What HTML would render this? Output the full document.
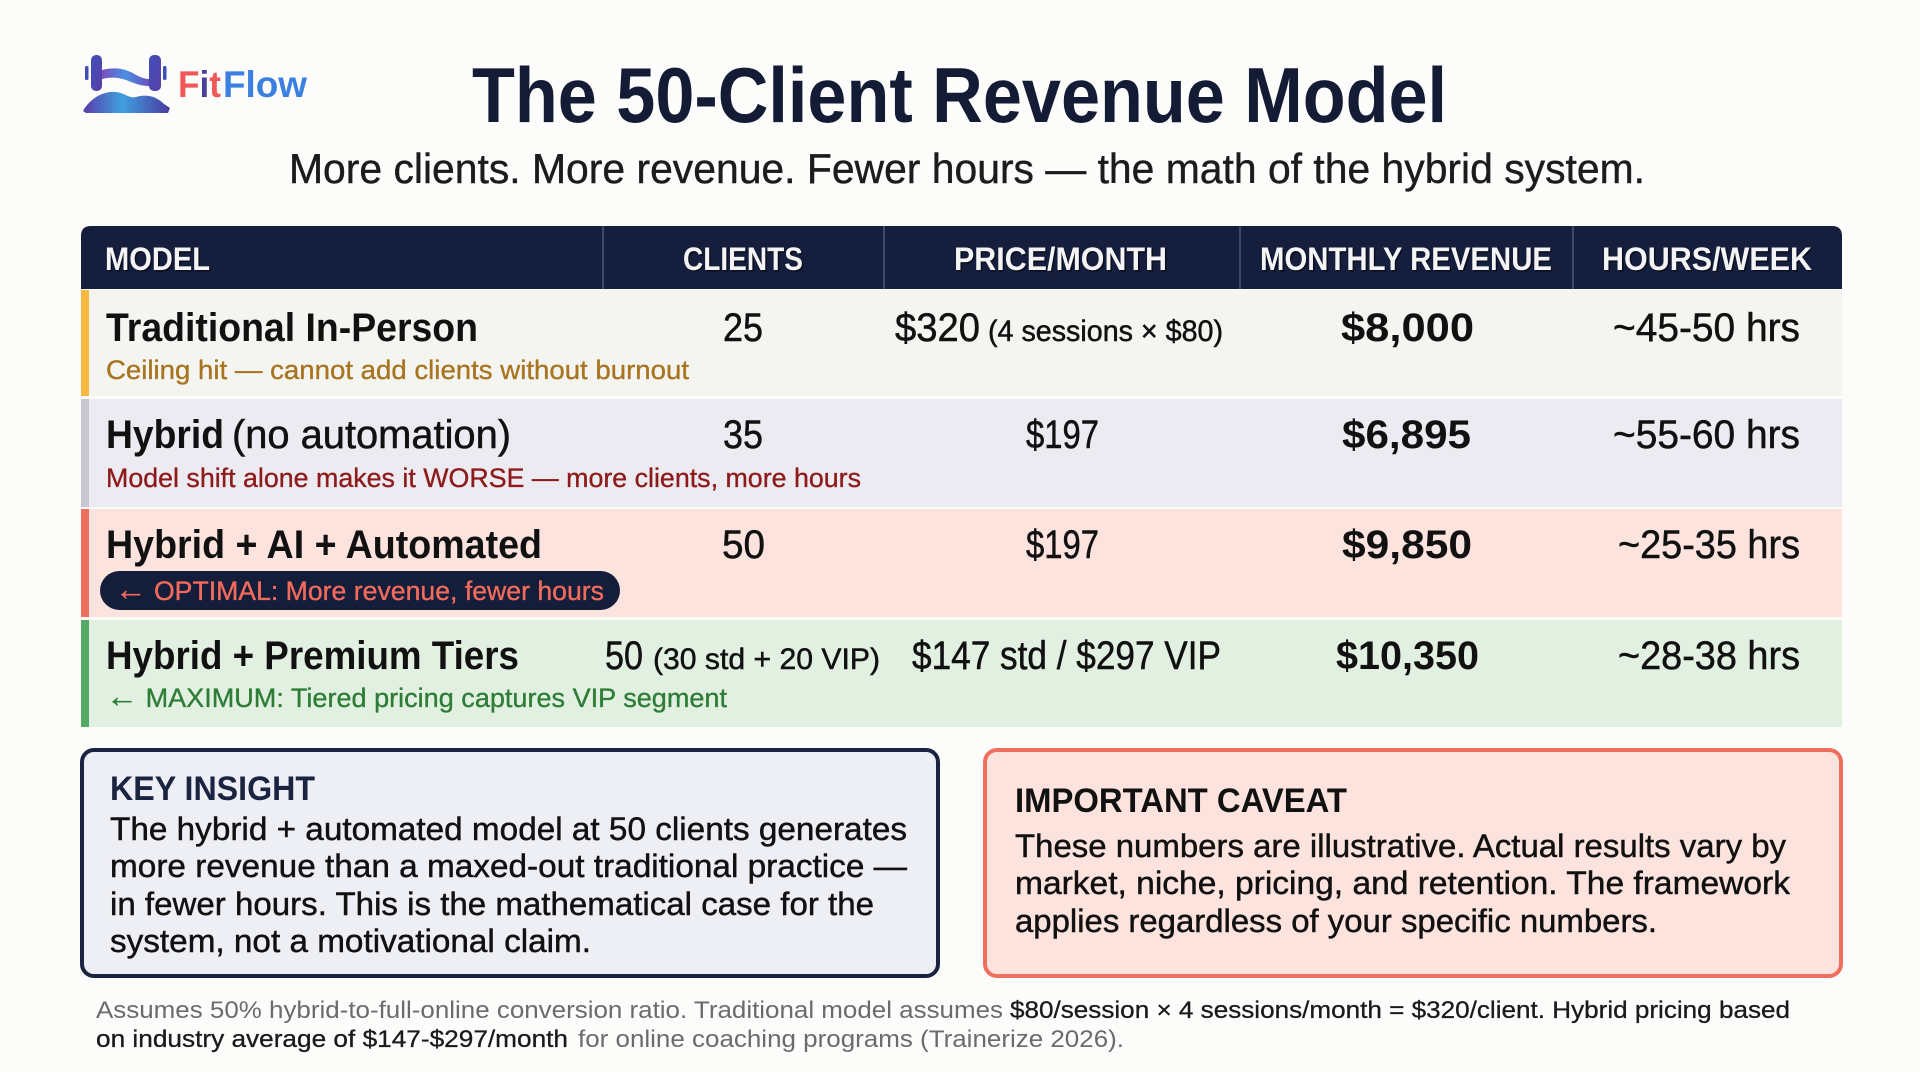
<!DOCTYPE html>
<html><head><meta charset="utf-8"><style>
html,body{margin:0;padding:0;background:#fcfcfb;}
svg{display:block;}
text{font-family:"Liberation Sans",Arial,sans-serif;}
</style></head><body>
<svg width="1920" height="1072" viewBox="0 0 1920 1072" xmlns="http://www.w3.org/2000/svg">
<defs>
<linearGradient id="gp" x1="0" y1="0" x2="1" y2="1"><stop offset="0" stop-color="#3f4fb8"/><stop offset="1" stop-color="#5a3fa8"/></linearGradient>
<linearGradient id="gw" x1="0" y1="0" x2="1" y2="0"><stop offset="0" stop-color="#7b4fc0"/><stop offset="0.5" stop-color="#4a8ee0"/><stop offset="1" stop-color="#6a4fc0"/></linearGradient>
<linearGradient id="gm" x1="0" y1="0" x2="1" y2="0"><stop offset="0" stop-color="#5a3aa8"/><stop offset="0.45" stop-color="#3fa0e0"/><stop offset="1" stop-color="#4a3a9e"/></linearGradient>
</defs>
<rect x="0" y="0" width="1920" height="1072" fill="#fcfcfb"/>

<!-- Logo -->
<rect x="85" y="66" width="3.5" height="14" rx="1.5" fill="#3f4fb8"/>
<rect x="91" y="55" width="11" height="36" rx="5" fill="url(#gp)"/>
<rect x="149" y="55" width="12" height="36" rx="5" fill="url(#gp)"/>
<rect x="163" y="66" width="3.5" height="14" rx="1.5" fill="#3f4fb8"/>
<path d="M102 70 C118 66,128 70,136 75 C142 78,146 79,149 79 L149 86 C140 86,134 83,126 80 C118 77,110 77,102 79 Z" fill="url(#gw)"/>
<path d="M83 111 C88 102,98 93,111 92 C124 91,128 99,136 97 C146 94,156 96,164 104 L170 108 L168 113 L86 113 Z" fill="url(#gm)"/>
<text x="178" y="97" font-size="37" font-weight="bold" fill="#f0595a" textLength="43" lengthAdjust="spacingAndGlyphs">F<tspan fill="#4a3f9a">i</tspan>t</text>
<text x="223" y="97" font-size="37" font-weight="bold" fill="#3b7fe0" textLength="84" lengthAdjust="spacingAndGlyphs">Flow</text>

<!-- Title -->
<text x="472" y="122" font-size="78" font-weight="bold" fill="#141b34" textLength="975" lengthAdjust="spacingAndGlyphs">The 50-Client Revenue Model</text>
<text x="289" y="183" font-size="42" fill="#1c1c1c" stroke="#1c1c1c" stroke-width="0.4" textLength="1356" lengthAdjust="spacingAndGlyphs">More clients. More revenue. Fewer hours — the math of the hybrid system.</text>

<!-- Table header -->
<path d="M81 289 L81 236 Q81 226 91 226 L1832 226 Q1842 226 1842 236 L1842 289 Z" fill="#151e3d"/>
<g stroke="#4c5575" stroke-width="1.5">
<line x1="603" y1="226" x2="603" y2="289"/>
<line x1="884" y1="226" x2="884" y2="289"/>
<line x1="1240" y1="226" x2="1240" y2="289"/>
<line x1="1573" y1="226" x2="1573" y2="289"/>
</g>
<g font-size="32" font-weight="bold" fill="#000" opacity="0.5" transform="translate(1.5,1.5)">
<text x="105" y="270" textLength="105" lengthAdjust="spacingAndGlyphs">MODEL</text>
<text x="683" y="270" textLength="120" lengthAdjust="spacingAndGlyphs">CLIENTS</text>
<text x="954" y="270" textLength="213" lengthAdjust="spacingAndGlyphs">PRICE/MONTH</text>
<text x="1260" y="270" textLength="292" lengthAdjust="spacingAndGlyphs">MONTHLY REVENUE</text>
<text x="1602" y="270" textLength="210" lengthAdjust="spacingAndGlyphs">HOURS/WEEK</text>
</g>
<g font-size="32" font-weight="bold" fill="#f4f4f4">
<text x="105" y="270" textLength="105" lengthAdjust="spacingAndGlyphs">MODEL</text>
<text x="683" y="270" textLength="120" lengthAdjust="spacingAndGlyphs">CLIENTS</text>
<text x="954" y="270" textLength="213" lengthAdjust="spacingAndGlyphs">PRICE/MONTH</text>
<text x="1260" y="270" textLength="292" lengthAdjust="spacingAndGlyphs">MONTHLY REVENUE</text>
<text x="1602" y="270" textLength="210" lengthAdjust="spacingAndGlyphs">HOURS/WEEK</text>
</g>

<!-- Rows -->
<rect x="81" y="290" width="1761" height="106" fill="#f4f4f1"/>
<rect x="81" y="290" width="8" height="106" fill="#f6b940"/>
<rect x="81" y="399" width="1761" height="108" fill="#ebebf1"/>
<rect x="81" y="399" width="8" height="108" fill="#c8c8d2"/>
<rect x="81" y="509" width="1761" height="108" fill="#fde3dd"/>
<rect x="81" y="509" width="8" height="108" fill="#ef6f5e"/>
<rect x="81" y="620" width="1761" height="107" fill="#e2f0e2"/>
<rect x="81" y="620" width="8" height="107" fill="#56a865"/>

<g fill="#111">
<!-- Row 1 -->
<text x="106" y="341" font-size="40" font-weight="bold" textLength="372" lengthAdjust="spacingAndGlyphs">Traditional In-Person</text>
<text x="106" y="379" font-size="27" fill="#a87420" stroke="#a87420" stroke-width="0.35" textLength="583" lengthAdjust="spacingAndGlyphs">Ceiling hit — cannot add clients without burnout</text>
<g stroke="#111" stroke-width="0.5">
<text x="723" y="341" font-size="40" textLength="40" lengthAdjust="spacingAndGlyphs">25</text>
<text x="895" y="341" font-size="40" textLength="85" lengthAdjust="spacingAndGlyphs">$320</text>
<text x="988" y="341" font-size="30" textLength="235" lengthAdjust="spacingAndGlyphs">(4 sessions × $80)</text>
<text x="1613" y="341" font-size="40" textLength="187" lengthAdjust="spacingAndGlyphs">~45-50 hrs</text>
</g>
<text x="1341" y="341" font-size="40" font-weight="bold" textLength="133" lengthAdjust="spacingAndGlyphs">$8,000</text>

<!-- Row 2 -->
<text x="106" y="448" font-size="40" font-weight="bold" textLength="118" lengthAdjust="spacingAndGlyphs">Hybrid</text>
<text x="106" y="487" font-size="27" fill="#8e1b1b" stroke="#8e1b1b" stroke-width="0.35" textLength="755" lengthAdjust="spacingAndGlyphs">Model shift alone makes it WORSE — more clients, more hours</text>
<g stroke="#111" stroke-width="0.5">
<text x="232" y="448" font-size="40" textLength="279" lengthAdjust="spacingAndGlyphs">(no automation)</text>
<text x="723" y="448" font-size="40" textLength="40" lengthAdjust="spacingAndGlyphs">35</text>
<text x="1026" y="448" font-size="40" textLength="73" lengthAdjust="spacingAndGlyphs">$197</text>
<text x="1613" y="448" font-size="40" textLength="187" lengthAdjust="spacingAndGlyphs">~55-60 hrs</text>
</g>
<text x="1342" y="448" font-size="40" font-weight="bold" textLength="129" lengthAdjust="spacingAndGlyphs">$6,895</text>

<!-- Row 3 -->
<text x="106" y="558" font-size="40" font-weight="bold" textLength="436" lengthAdjust="spacingAndGlyphs">Hybrid + AI + Automated</text>
<rect x="100" y="571" width="520" height="39" rx="19.5" fill="#141d3a"/>
<text x="115" y="600" font-size="27" fill="#f26b5b" stroke="#f26b5b" stroke-width="0.35" textLength="489" lengthAdjust="spacingAndGlyphs"><tspan font-size="32">←</tspan> OPTIMAL: More revenue, fewer hours</text>
<g stroke="#111" stroke-width="0.5">
<text x="722" y="558" font-size="40" textLength="43" lengthAdjust="spacingAndGlyphs">50</text>
<text x="1026" y="558" font-size="40" textLength="73" lengthAdjust="spacingAndGlyphs">$197</text>
<text x="1618" y="558" font-size="40" textLength="182" lengthAdjust="spacingAndGlyphs">~25-35 hrs</text>
</g>
<text x="1342" y="558" font-size="40" font-weight="bold" textLength="130" lengthAdjust="spacingAndGlyphs">$9,850</text>

<!-- Row 4 -->
<text x="106" y="669" font-size="40" font-weight="bold" textLength="413" lengthAdjust="spacingAndGlyphs">Hybrid + Premium Tiers</text>
<text x="106" y="707" font-size="27" fill="#2e7d36" stroke="#2e7d36" stroke-width="0.35" textLength="621" lengthAdjust="spacingAndGlyphs"><tspan font-size="32">←</tspan> MAXIMUM: Tiered pricing captures VIP segment</text>
<g stroke="#111" stroke-width="0.5">
<text x="605" y="669" font-size="40" textLength="38" lengthAdjust="spacingAndGlyphs">50</text>
<text x="653" y="669" font-size="30" textLength="227" lengthAdjust="spacingAndGlyphs">(30 std + 20 VIP)</text>
<text x="912" y="669" font-size="40" textLength="309" lengthAdjust="spacingAndGlyphs">$147 std / $297 VIP</text>
<text x="1618" y="669" font-size="40" textLength="182" lengthAdjust="spacingAndGlyphs">~28-38 hrs</text>
</g>
<text x="1336" y="669" font-size="40" font-weight="bold" textLength="143" lengthAdjust="spacingAndGlyphs">$10,350</text>
</g>

<!-- Key insight box -->
<rect x="82" y="750" width="856" height="226" rx="12" fill="#eeeff4" stroke="#1a2340" stroke-width="4"/>
<text x="110" y="800" font-size="34" font-weight="bold" fill="#1a2340" textLength="205" lengthAdjust="spacingAndGlyphs">KEY INSIGHT</text>
<g font-size="32" fill="#111" stroke="#111" stroke-width="0.45">
<text x="110" y="840" textLength="797" lengthAdjust="spacingAndGlyphs">The hybrid + automated model at 50 clients generates</text>
<text x="110" y="877" textLength="797" lengthAdjust="spacingAndGlyphs">more revenue than a maxed-out traditional practice —</text>
<text x="110" y="915" textLength="764" lengthAdjust="spacingAndGlyphs">in fewer hours. This is the mathematical case for the</text>
<text x="110" y="952" textLength="481" lengthAdjust="spacingAndGlyphs">system, not a motivational claim.</text>
</g>

<!-- Caveat box -->
<rect x="985" y="750" width="856" height="226" rx="12" fill="#fde3dd" stroke="#ef6f5e" stroke-width="4"/>
<text x="1015" y="812" font-size="34" font-weight="bold" fill="#111" textLength="332" lengthAdjust="spacingAndGlyphs">IMPORTANT CAVEAT</text>
<g font-size="32" fill="#111" stroke="#111" stroke-width="0.45">
<text x="1015" y="857" textLength="771" lengthAdjust="spacingAndGlyphs">These numbers are illustrative. Actual results vary by</text>
<text x="1015" y="894" textLength="775" lengthAdjust="spacingAndGlyphs">market, niche, pricing, and retention. The framework</text>
<text x="1015" y="932" textLength="642" lengthAdjust="spacingAndGlyphs">applies regardless of your specific numbers.</text>
</g>

<!-- Footer -->
<g font-size="24">
<text x="96" y="1018" fill="#6b6b6b" textLength="907" lengthAdjust="spacingAndGlyphs">Assumes 50% hybrid-to-full-online conversion ratio. Traditional model assumes</text>
<text x="1010" y="1018" fill="#1a1a1a" stroke="#1a1a1a" stroke-width="0.3" textLength="780" lengthAdjust="spacingAndGlyphs">$80/session × 4 sessions/month = $320/client. Hybrid pricing based</text>
<text x="96" y="1047" fill="#1a1a1a" stroke="#1a1a1a" stroke-width="0.3" textLength="472" lengthAdjust="spacingAndGlyphs">on industry average of $147-$297/month</text>
<text x="578" y="1047" fill="#6b6b6b" textLength="546" lengthAdjust="spacingAndGlyphs">for online coaching programs (Trainerize 2026).</text>
</g>
</svg>
</body></html>
